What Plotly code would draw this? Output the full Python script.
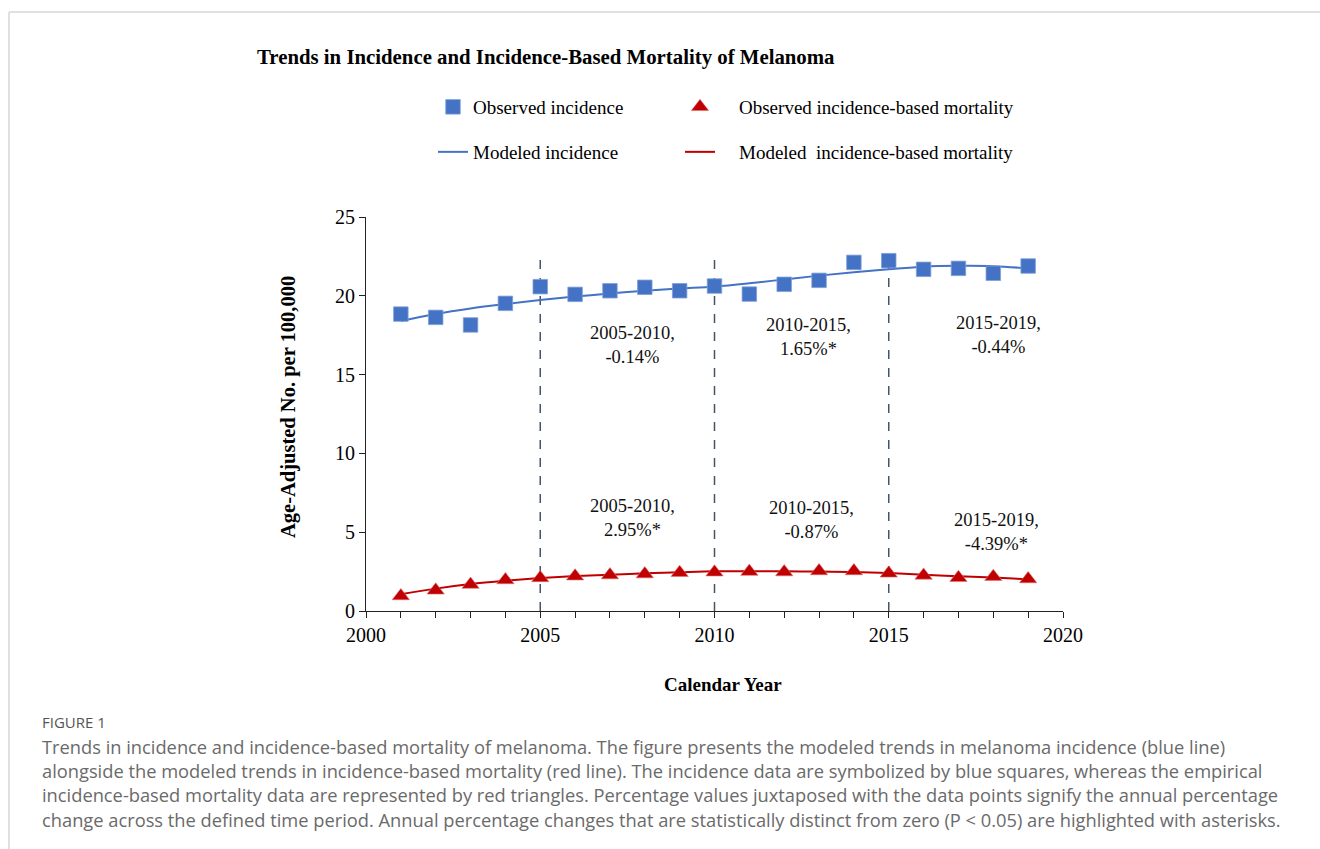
import plotly.graph_objects as go

# ---------------- data ----------------
years = list(range(2001, 2020))
obs_incidence = [18.84, 18.63, 18.15, 19.52, 20.58, 20.09, 20.32, 20.54, 20.32, 20.62,
                 20.11, 20.73, 20.98, 22.12, 22.23, 21.68, 21.74, 21.43, 21.89]
mod_incidence = [18.40, 18.85, 19.20, 19.48, 19.73, 19.95, 20.15, 20.32, 20.46, 20.58,
                 20.79, 21.04, 21.28, 21.49, 21.68, 21.85, 21.90, 21.88, 21.74]
obs_mortality = [0.95, 1.31, 1.68, 1.97, 2.10, 2.21, 2.28, 2.34, 2.43, 2.46,
                 2.50, 2.47, 2.54, 2.54, 2.39, 2.26, 2.11, 2.18, 2.03]
mod_mortality = [1.06, 1.42, 1.71, 1.92, 2.09, 2.22, 2.30, 2.39, 2.46, 2.52,
                 2.52, 2.52, 2.50, 2.48, 2.41, 2.30, 2.20, 2.12, 2.01]
joinpoint_years = [2005, 2010, 2015]
joinpoint_top = 22.5

inc_labels = ["2005-2010,<br>-0.14%", "2010-2015,<br>1.65%*", "2015-2019,<br>-0.44%"]
inc_label_x = [2007.66, 2012.7, 2018.15]
inc_label_y = [16.9, 17.4, 17.5]
mort_labels = ["2005-2010,<br>2.95%*", "2010-2015,<br>-0.87%", "2015-2019,<br>-4.39%*"]
mort_label_x = [2007.66, 2012.77, 2018.1]
mort_label_y = [5.9, 5.77, 5.0]

x_ticks = [2000, 2005, 2010, 2015, 2020]
y_ticks = [0, 5, 10, 15, 20, 25]

series_names = ["Observed incidence", "Observed incidence-based mortality",
                "Modeled incidence", "Modeled\u00a0 incidence-based mortality"]

caption_head = "FIGURE 1"
caption_lines = [
    "Trends in incidence and incidence-based mortality of melanoma. The figure presents the modeled trends in melanoma incidence (blue line)",
    "alongside the modeled trends in incidence-based mortality (red line). The incidence data are symbolized by blue squares, whereas the empirical",
    "incidence-based mortality data are represented by red triangles. Percentage values juxtaposed with the data points signify the annual percentage",
    "change across the defined time period. Annual percentage changes that are statistically distinct from zero (P < 0.05) are highlighted with asterisks.",
]

# ---------------- layout geometry ----------------
W, H = 1320, 849
L, R, T, B = 366, 1063, 217, 611


def px(x):
    return (x - L) / (R - L)


def py(y):
    return (B - y) / (B - T)


SERIF = "Liberation Serif, Times New Roman, serif"
SANS = "Open Sans, sans-serif"
BLUE = "#4472C4"
RED = "#C00000"
PAD = "\u00a0" * 4  # extra gap between legend symbol and text in the right column

fig = go.Figure()

fig.add_trace(go.Scatter(x=years, y=mod_incidence, mode="lines", name=series_names[2],
                         line=dict(color=BLUE, width=2, shape="spline"), legend="legend3"))
fig.add_trace(go.Scatter(x=years, y=mod_mortality, mode="lines", name=PAD + series_names[3],
                         line=dict(color=RED, width=2, shape="spline"), legend="legend4"))
fig.add_trace(go.Scatter(x=years, y=obs_incidence, mode="markers", name=series_names[0],
                         marker=dict(symbol="square", size=14.5, color=BLUE,
                                     line=dict(color="#7f9fd9", width=0.8)),
                         legend="legend"))
fig.add_trace(go.Scatter(x=years, y=obs_mortality, mode="markers", name=PAD + series_names[1],
                         marker=dict(symbol="triangle-up", size=15, color=RED,
                                     line=dict(color="#e07070", width=0.6)),
                         legend="legend2"))

shapes = []
for yr in joinpoint_years:
    shapes.append(dict(type="line", xref="x", yref="y", x0=yr, x1=yr, y0=0, y1=joinpoint_top,
                       line=dict(color="#44546A", width=1.5, dash="dash"), layer="below"))
# page frame lines (light gray)
shapes.append(dict(type="line", xref="paper", yref="paper", x0=px(9), x1=px(1330), y0=py(12), y1=py(12),
                   line=dict(color="#d6d6d6", width=1.5)))
shapes.append(dict(type="line", xref="paper", yref="paper", x0=px(9), x1=px(9), y0=py(12), y1=py(860),
                   line=dict(color="#d6d6d6", width=1.5)))

annotations = []
for t, x, y in zip(inc_labels + mort_labels, inc_label_x + mort_label_x, inc_label_y + mort_label_y):
    annotations.append(dict(x=x, y=y, xref="x", yref="y", text=t, showarrow=False,
                            font=dict(family=SERIF, size=18.5, color="#111"), align="center"))

annotations.append(dict(x=px(546), y=py(57), xref="paper", yref="paper",
                        text="<b>Trends in Incidence and Incidence-Based Mortality of Melanoma</b>",
                        showarrow=False, font=dict(family=SERIF, size=20.8, color="#000"),
                        xanchor="center", yanchor="middle"))
annotations.append(dict(x=px(723), y=py(684), xref="paper", yref="paper",
                        text="<b>Calendar Year</b>", showarrow=False,
                        font=dict(family=SERIF, size=19, color="#000"),
                        xanchor="center", yanchor="middle"))
annotations.append(dict(x=px(288), y=py(407), xref="paper", yref="paper",
                        text="<b>Age-Adjusted No. per 100,000</b>", showarrow=False, textangle=-90,
                        font=dict(family=SERIF, size=20.5, color="#000"),
                        xanchor="center", yanchor="middle"))

annotations.append(dict(x=px(40), y=py(722), xref="paper", yref="paper", text=caption_head,
                        showarrow=False, xanchor="left", yanchor="middle",
                        font=dict(family=SANS, size=15, color="#555")))
for i, line in enumerate(caption_lines):
    annotations.append(dict(x=px(40), y=py(746 + i * 24.4), xref="paper", yref="paper", text=line,
                            showarrow=False, xanchor="left", yanchor="middle",
                            font=dict(family=SANS, size=18.3, color="#6a6a6a")))

legend_common = dict(orientation="h", xref="paper", yref="paper", xanchor="left", yanchor="middle",
                     font=dict(family=SERIF, size=19, color="#000"), bgcolor="rgba(0,0,0,0)",
                     itemclick=False, itemdoubleclick=False)

fig.update_layout(
    width=W, height=H,
    margin=dict(l=L, r=W - R, t=T, b=H - B, pad=0),
    paper_bgcolor="white", plot_bgcolor="white",
    showlegend=True,
    legend=dict(x=px(433), y=py(107), **legend_common),
    legend2=dict(x=px(680), y=py(107), **legend_common),
    legend3=dict(x=px(433), y=py(152), **legend_common),
    legend4=dict(x=px(680), y=py(152), **legend_common),
    xaxis=dict(range=[2000, 2020], tickvals=x_ticks, ticks="outside", ticklen=6, tickwidth=1.2,
               tickcolor="#222", showline=True, linecolor="#222", linewidth=1.2, showgrid=False,
               zeroline=False, tickfont=dict(family=SERIF, size=20, color="#000"),
               minor=dict(dtick=1, tick0=2000, ticks="outside", ticklen=6, tickwidth=1.2,
                          tickcolor="#222", showgrid=False)),
    yaxis=dict(range=[0, 25], tickvals=y_ticks, ticks="outside", ticklen=6, tickwidth=1.2,
               tickcolor="#222", showline=True, linecolor="#222", linewidth=1.2, showgrid=False,
               zeroline=False, tickfont=dict(family=SERIF, size=20, color="#000")),
    shapes=shapes,
    annotations=annotations,
)

fig.write_html("out.html")
